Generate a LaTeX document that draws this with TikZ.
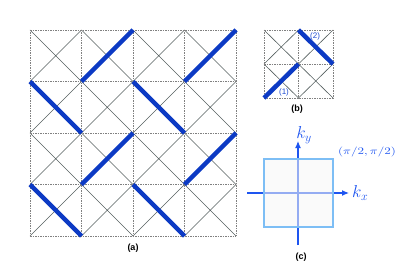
\documentclass[tikz,border=0pt]{standalone}
\usepackage{fontspec}
\usepackage{graphicx}
\usetikzlibrary{arrows.meta}
\newfontfamily\panelfont{Liberation Sans}
\definecolor{bondblue}{RGB}{12,58,196}
\definecolor{tagblue}{RGB}{30,75,210}
\definecolor{axisblue}{RGB}{30,85,240}
\definecolor{zoneblue}{RGB}{125,190,245}
\definecolor{latgray}{RGB}{85,95,95}
\tikzset{
  cellline/.style={gray, dash pattern=on 1.5pt off 1pt, line width=0.6pt},
  diagline/.style={latgray, line width=0.6pt},
  bond/.style={bondblue, line width=4.5pt},
  panel/.style={font=\panelfont\bfseries\fontsize{9}{10}\selectfont},
  bondtag/.style={tagblue, font=\panelfont\fontsize{8}{9}\selectfont, inner sep=0pt},
  axis/.style={axisblue, line width=1.1pt, -{Latex[length=7pt,width=6pt]}},
  zone/.style={draw=zoneblue, line width=1.8pt, fill=gray!8, fill opacity=0.55},
  klabel/.style={axisblue, font=\fontsize{17.28}{20}\selectfont, inner sep=0pt}
}

\begin{document}
\begin{tikzpicture}[x=1pt,y=-1pt]
  \useasboundingbox (0,0) rectangle (407,270);
  \begin{scope}[shift={(30,30)},x=51.5pt,y=-51.5pt]
    \foreach \i in {0,...,3}
      \foreach \j in {0,...,3}
        \draw[diagline] (\i,\j) -- ++(1,1) (\i+1,\j) -- ++(-1,1);
    \foreach \k in {0,...,4} {
      \draw[cellline] (\k,0) -- (\k,4);
      \draw[cellline] (0,\k) -- (4,\k);
    }
    \draw[bond] (1,1) -- (2,0) (3,1) -- (4,0);
    \draw[bond] (0,1) -- (1,2) (2,1) -- (3,2);
    \draw[bond] (1,3) -- (2,2) (3,3) -- (4,2);
    \draw[bond] (0,3) -- (1,4) (2,3) -- (3,4);
  \end{scope}
  \node[panel] (lbl-a) at (133,248) {(a)};

  \begin{scope}[shift={(264,30)},x=34.5pt,y=-34pt]
    \foreach \i in {0,1}
      \foreach \j in {0,1}
        \draw[diagline] (\i,\j) -- ++(1,1) (\i+1,\j) -- ++(-1,1);
    \foreach \k in {0,1,2} {
      \draw[cellline] (\k,0) -- (\k,2);
      \draw[cellline] (0,\k) -- (2,\k);
    }
    \draw[bond] (1,0) -- (2,1) (0,2) -- (1,1);
    \node[bondtag] (tag-two) at (1.48,0.19) {(2)};
    \node[bondtag] (tag-one) at (0.58,1.84) {(1)};
  \end{scope}
  \node[panel] (lbl-b) at (297,109) {(b)};

  \coordinate (kx-start) at (247,193);
  \coordinate (kx-end) at (349,193);
  \coordinate (ky-start) at (298,245);
  \coordinate (ky-end) at (298,141);
  \draw[axis] (kx-start) -- (kx-end);
  \draw[axis] (ky-start) -- (ky-end);
  \filldraw[zone] (264,159) rectangle (333,227);
  \node[klabel, anchor=west] (kx) at ([xshift=3pt]kx-end) {$k_x$};
  \node[klabel] (ky) at (304,135) {$k_y$};
  \node[axisblue, inner sep=0pt] (corner) at (367,152)
    {\scalebox{1.3}[1]{$(\pi/2,\pi/2)$}};
  \node[panel] (lbl-c) at (301,257) {(c)};
\end{tikzpicture}
\end{document}
